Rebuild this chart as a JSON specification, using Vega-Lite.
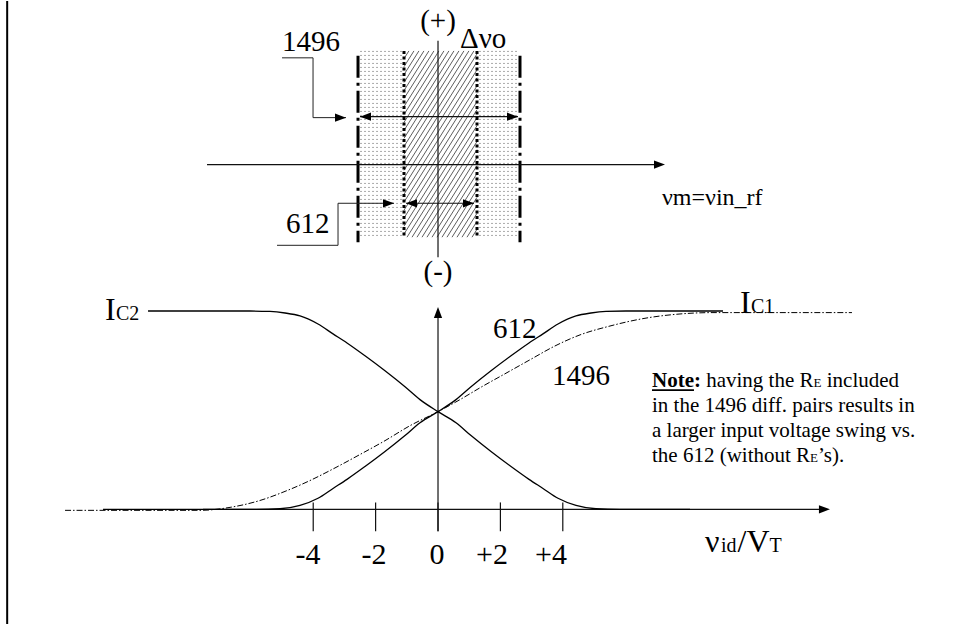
{
  "$schema": "https://vega.github.io/schema/vega-lite/v6.json",
  "width": 959,
  "height": 625,
  "autosize": {"type": "fit", "contains": "padding"},
  "padding": 0,
  "background": "white",
  "config": {"view": {"stroke": null}},
  "datasets": {
    "curves": [
      {"curve": "IC2 612", "x": -9.295, "y": 1.005},
      {"curve": "IC2 612", "x": -6.026, "y": 1.005},
      {"curve": "IC2 612", "x": -5.385, "y": 1.003},
      {"curve": "IC2 612", "x": -4.904, "y": 0.995},
      {"curve": "IC2 612", "x": -4.423, "y": 0.98},
      {"curve": "IC2 612", "x": -3.846, "y": 0.939},
      {"curve": "IC2 612", "x": -3.365, "y": 0.889},
      {"curve": "IC2 612", "x": -2.917, "y": 0.843},
      {"curve": "IC2 612", "x": -2.34, "y": 0.778},
      {"curve": "IC2 612", "x": -1.699, "y": 0.702},
      {"curve": "IC2 612", "x": -1.058, "y": 0.621},
      {"curve": "IC2 612", "x": -0.577, "y": 0.556},
      {"curve": "IC2 612", "x": 0, "y": 0.495},
      {"curve": "IC2 612", "x": 0.577, "y": 0.439},
      {"curve": "IC2 612", "x": 1.058, "y": 0.374},
      {"curve": "IC2 612", "x": 1.699, "y": 0.293},
      {"curve": "IC2 612", "x": 2.34, "y": 0.217},
      {"curve": "IC2 612", "x": 2.917, "y": 0.152},
      {"curve": "IC2 612", "x": 3.365, "y": 0.106},
      {"curve": "IC2 612", "x": 3.846, "y": 0.056},
      {"curve": "IC2 612", "x": 4.423, "y": 0.02},
      {"curve": "IC2 612", "x": 5.064, "y": 0.003},
      {"curve": "IC2 612", "x": 5.833, "y": 0},
      {"curve": "IC2 612", "x": 8.077, "y": 0},
      {"curve": "IC1 612", "x": -10.737, "y": 0},
      {"curve": "IC1 612", "x": -5.833, "y": 0},
      {"curve": "IC1 612", "x": -5.064, "y": 0.003},
      {"curve": "IC1 612", "x": -4.423, "y": 0.02},
      {"curve": "IC1 612", "x": -3.846, "y": 0.056},
      {"curve": "IC1 612", "x": -3.365, "y": 0.106},
      {"curve": "IC1 612", "x": -2.917, "y": 0.152},
      {"curve": "IC1 612", "x": -2.34, "y": 0.217},
      {"curve": "IC1 612", "x": -1.699, "y": 0.293},
      {"curve": "IC1 612", "x": -1.058, "y": 0.374},
      {"curve": "IC1 612", "x": -0.577, "y": 0.439},
      {"curve": "IC1 612", "x": 0, "y": 0.495},
      {"curve": "IC1 612", "x": 0.577, "y": 0.556},
      {"curve": "IC1 612", "x": 1.058, "y": 0.621},
      {"curve": "IC1 612", "x": 1.699, "y": 0.702},
      {"curve": "IC1 612", "x": 2.34, "y": 0.778},
      {"curve": "IC1 612", "x": 2.917, "y": 0.843},
      {"curve": "IC1 612", "x": 3.365, "y": 0.889},
      {"curve": "IC1 612", "x": 3.846, "y": 0.939},
      {"curve": "IC1 612", "x": 4.423, "y": 0.98},
      {"curve": "IC1 612", "x": 4.904, "y": 0.995},
      {"curve": "IC1 612", "x": 5.385, "y": 1.003},
      {"curve": "IC1 612", "x": 6.026, "y": 1.005},
      {"curve": "IC1 612", "x": 9.135, "y": 1.005},
      {"curve": "IC1 1496", "x": -11.955, "y": -0.005},
      {"curve": "IC1 1496", "x": -7.628, "y": -0.005},
      {"curve": "IC1 1496", "x": -6.667, "y": 0.01},
      {"curve": "IC1 1496", "x": -5.705, "y": 0.045},
      {"curve": "IC1 1496", "x": -4.904, "y": 0.091},
      {"curve": "IC1 1496", "x": -4.103, "y": 0.146},
      {"curve": "IC1 1496", "x": -3.397, "y": 0.202},
      {"curve": "IC1 1496", "x": -2.5, "y": 0.278},
      {"curve": "IC1 1496", "x": -1.699, "y": 0.348},
      {"curve": "IC1 1496", "x": -0.897, "y": 0.424},
      {"curve": "IC1 1496", "x": 0, "y": 0.495},
      {"curve": "IC1 1496", "x": 0.705, "y": 0.556},
      {"curve": "IC1 1496", "x": 1.346, "y": 0.616},
      {"curve": "IC1 1496", "x": 2.147, "y": 0.687},
      {"curve": "IC1 1496", "x": 2.949, "y": 0.758},
      {"curve": "IC1 1496", "x": 3.75, "y": 0.828},
      {"curve": "IC1 1496", "x": 4.551, "y": 0.884},
      {"curve": "IC1 1496", "x": 5.513, "y": 0.929},
      {"curve": "IC1 1496", "x": 6.699, "y": 0.97},
      {"curve": "IC1 1496", "x": 7.756, "y": 0.99},
      {"curve": "IC1 1496", "x": 8.814, "y": 0.997},
      {"curve": "IC1 1496", "x": 10.321, "y": 0.997},
      {"curve": "IC1 1496", "x": 13.269, "y": 0.997}
    ],
    "rules": [
      {"style": "border", "x": -13.81, "y": 2.576, "x2": -13.81, "y2": -0.581},
      {"style": "axis", "x": 0, "y": 2.374, "x2": 0, "y2": 1.278},
      {"style": "axis", "x": -7.404, "y": 1.747, "x2": 7.1, "y2": 1.747},
      {"style": "axis", "x": -2.5, "y": 1.99, "x2": 2.564, "y2": 1.99},
      {"style": "axis", "x": -1.026, "y": 1.551, "x2": 1.154, "y2": 1.551},
      {"style": "axis", "x": -7.532, "y": 0, "x2": 12.4, "y2": 0},
      {"style": "axis", "x": 0, "y": 1.0, "x2": 0, "y2": -0.111},
      {"style": "axis", "x": -4, "y": 0.035, "x2": -4, "y2": -0.111},
      {"style": "axis", "x": -2, "y": 0.035, "x2": -2, "y2": -0.111},
      {"style": "axis", "x": 0, "y": 0.035, "x2": 0, "y2": -0.111},
      {"style": "axis", "x": 2, "y": 0.035, "x2": 2, "y2": -0.111},
      {"style": "axis", "x": 4, "y": 0.035, "x2": 4, "y2": -0.111},
      {"style": "underline", "x": 6.859, "y": 0.604, "x2": 8.205, "y2": 0.604},
      {"style": "dashdot", "x": -2.564, "y": 2.298, "x2": -2.564, "y2": 1.354},
      {"style": "dashdot", "x": 2.628, "y": 2.298, "x2": 2.628, "y2": 1.354},
      {"style": "dotted", "x": -1.09, "y": 2.323, "x2": -1.09, "y2": 1.379},
      {"style": "dotted", "x": 1.25, "y": 2.323, "x2": 1.25, "y2": 1.379},
      {"style": "stipple", "x": -2.468, "y": 2.323, "x2": -2.468, "y2": 1.379},
      {"style": "stipple", "x": -2.34, "y": 2.323, "x2": -2.34, "y2": 1.379},
      {"style": "stipple", "x": -2.212, "y": 2.323, "x2": -2.212, "y2": 1.379},
      {"style": "stipple", "x": -2.083, "y": 2.323, "x2": -2.083, "y2": 1.379},
      {"style": "stipple", "x": -1.955, "y": 2.323, "x2": -1.955, "y2": 1.379},
      {"style": "stipple", "x": -1.827, "y": 2.323, "x2": -1.827, "y2": 1.379},
      {"style": "stipple", "x": -1.699, "y": 2.323, "x2": -1.699, "y2": 1.379},
      {"style": "stipple", "x": -1.571, "y": 2.323, "x2": -1.571, "y2": 1.379},
      {"style": "stipple", "x": -1.442, "y": 2.323, "x2": -1.442, "y2": 1.379},
      {"style": "stipple", "x": -1.314, "y": 2.323, "x2": -1.314, "y2": 1.379},
      {"style": "stipple", "x": -1.186, "y": 2.323, "x2": -1.186, "y2": 1.379},
      {"style": "stipple", "x": 1.346, "y": 2.323, "x2": 1.346, "y2": 1.379},
      {"style": "stipple", "x": 1.474, "y": 2.323, "x2": 1.474, "y2": 1.379},
      {"style": "stipple", "x": 1.603, "y": 2.323, "x2": 1.603, "y2": 1.379},
      {"style": "stipple", "x": 1.731, "y": 2.323, "x2": 1.731, "y2": 1.379},
      {"style": "stipple", "x": 1.859, "y": 2.323, "x2": 1.859, "y2": 1.379},
      {"style": "stipple", "x": 1.987, "y": 2.323, "x2": 1.987, "y2": 1.379},
      {"style": "stipple", "x": 2.115, "y": 2.323, "x2": 2.115, "y2": 1.379},
      {"style": "stipple", "x": 2.244, "y": 2.323, "x2": 2.244, "y2": 1.379},
      {"style": "stipple", "x": 2.372, "y": 2.323, "x2": 2.372, "y2": 1.379},
      {"style": "stipple", "x": 2.5, "y": 2.323, "x2": 2.5, "y2": 1.379},
      {"style": "hatch", "x": -1.09, "y": 2.284, "x2": -0.933, "y2": 2.323},
      {"style": "hatch", "x": -1.09, "y": 2.243, "x2": -0.772, "y2": 2.323},
      {"style": "hatch", "x": -1.09, "y": 2.203, "x2": -0.612, "y2": 2.323},
      {"style": "hatch", "x": -1.09, "y": 2.163, "x2": -0.452, "y2": 2.323},
      {"style": "hatch", "x": -1.09, "y": 2.122, "x2": -0.292, "y2": 2.323},
      {"style": "hatch", "x": -1.09, "y": 2.082, "x2": -0.131, "y2": 2.323},
      {"style": "hatch", "x": -1.09, "y": 2.041, "x2": 0.029, "y2": 2.323},
      {"style": "hatch", "x": -1.09, "y": 2.001, "x2": 0.189, "y2": 2.323},
      {"style": "hatch", "x": -1.09, "y": 1.961, "x2": 0.349, "y2": 2.323},
      {"style": "hatch", "x": -1.09, "y": 1.92, "x2": 0.51, "y2": 2.323},
      {"style": "hatch", "x": -1.09, "y": 1.88, "x2": 0.67, "y2": 2.323},
      {"style": "hatch", "x": -1.09, "y": 1.839, "x2": 0.83, "y2": 2.323},
      {"style": "hatch", "x": -1.09, "y": 1.799, "x2": 0.99, "y2": 2.323},
      {"style": "hatch", "x": -1.09, "y": 1.759, "x2": 1.151, "y2": 2.323},
      {"style": "hatch", "x": -1.09, "y": 1.718, "x2": 1.25, "y2": 2.308},
      {"style": "hatch", "x": -1.09, "y": 1.678, "x2": 1.25, "y2": 2.268},
      {"style": "hatch", "x": -1.09, "y": 1.637, "x2": 1.25, "y2": 2.227},
      {"style": "hatch", "x": -1.09, "y": 1.597, "x2": 1.25, "y2": 2.187},
      {"style": "hatch", "x": -1.09, "y": 1.557, "x2": 1.25, "y2": 2.146},
      {"style": "hatch", "x": -1.09, "y": 1.516, "x2": 1.25, "y2": 2.106},
      {"style": "hatch", "x": -1.09, "y": 1.476, "x2": 1.25, "y2": 2.066},
      {"style": "hatch", "x": -1.09, "y": 1.435, "x2": 1.25, "y2": 2.025},
      {"style": "hatch", "x": -1.09, "y": 1.395, "x2": 1.25, "y2": 1.985},
      {"style": "hatch", "x": -0.994, "y": 1.379, "x2": 1.25, "y2": 1.944},
      {"style": "hatch", "x": -0.833, "y": 1.379, "x2": 1.25, "y2": 1.904},
      {"style": "hatch", "x": -0.673, "y": 1.379, "x2": 1.25, "y2": 1.864},
      {"style": "hatch", "x": -0.513, "y": 1.379, "x2": 1.25, "y2": 1.823},
      {"style": "hatch", "x": -0.353, "y": 1.379, "x2": 1.25, "y2": 1.783},
      {"style": "hatch", "x": -0.192, "y": 1.379, "x2": 1.25, "y2": 1.742},
      {"style": "hatch", "x": -0.032, "y": 1.379, "x2": 1.25, "y2": 1.702},
      {"style": "hatch", "x": 0.128, "y": 1.379, "x2": 1.25, "y2": 1.662},
      {"style": "hatch", "x": 0.288, "y": 1.379, "x2": 1.25, "y2": 1.621},
      {"style": "hatch", "x": 0.449, "y": 1.379, "x2": 1.25, "y2": 1.581},
      {"style": "hatch", "x": 0.609, "y": 1.379, "x2": 1.25, "y2": 1.54},
      {"style": "hatch", "x": 0.769, "y": 1.379, "x2": 1.25, "y2": 1.5},
      {"style": "hatch", "x": 0.929, "y": 1.379, "x2": 1.25, "y2": 1.46},
      {"style": "hatch", "x": 1.09, "y": 1.379, "x2": 1.25, "y2": 1.419}
    ],
    "leaders": [
      {"leader": "1496", "order": 1, "x": -5.0, "y": 2.288},
      {"leader": "1496", "order": 2, "x": -4.006, "y": 2.288},
      {"leader": "1496", "order": 3, "x": -4.006, "y": 1.985},
      {"leader": "1496", "order": 4, "x": -2.949, "y": 1.985},
      {"leader": "612", "order": 1, "x": -5.16, "y": 1.338},
      {"leader": "612", "order": 2, "x": -3.205, "y": 1.338},
      {"leader": "612", "order": 3, "x": -3.205, "y": 1.551},
      {"leader": "612", "order": 4, "x": -1.41, "y": 1.551}
    ],
    "arrows": [
      {"dir": "right", "x": 7.276, "y": 1.747},
      {"dir": "left", "x": -2.5, "y": 1.99},
      {"dir": "right", "x": 2.564, "y": 1.99},
      {"dir": "right", "x": -2.949, "y": 1.985},
      {"dir": "right", "x": -1.41, "y": 1.551},
      {"dir": "left", "x": -1.026, "y": 1.551},
      {"dir": "right", "x": 1.154, "y": 1.551},
      {"dir": "right", "x": 12.564, "y": 0},
      {"dir": "up", "x": 0, "y": 1.025}
    ],
    "texts": [
      {"role": "num", "x": -5.0, "y": 2.323, "text": "1496"},
      {"role": "num", "x": -4.872, "y": 1.399, "text": "612"},
      {"role": "num", "x": 0.705, "y": 2.338, "text": "Δνo"},
      {"role": "num", "x": 1.763, "y": 0.869, "text": "612"},
      {"role": "num", "x": 3.654, "y": 0.631, "text": "1496"},
      {"role": "sign", "x": 0, "y": 2.429, "text": "(+)"},
      {"role": "sign", "x": 0, "y": 1.157, "text": "(-)"},
      {"role": "vm", "x": 7.179, "y": 1.54, "text": "νm=νin_rf"},
      {"role": "I", "x": -10.673, "y": 0.96, "text": "I"},
      {"role": "I", "x": 9.679, "y": 0.995, "text": "I"},
      {"role": "sub", "x": -10.321, "y": 0.96, "text": "C2"},
      {"role": "sub", "x": 10.032, "y": 0.995, "text": "C1"},
      {"role": "sub", "x": 9.071, "y": -0.217, "text": "id"},
      {"role": "sub", "x": 10.625, "y": -0.217, "text": "T"},
      {"role": "axisBig", "x": 8.558, "y": -0.217, "text": "ν"},
      {"role": "axisBig", "x": 9.599, "y": -0.217, "text": "/"},
      {"role": "axisBig", "x": 9.885, "y": -0.217, "text": "V"},
      {"role": "noteBold", "x": 6.859, "y": 0.621, "text": "Note:"},
      {"role": "note", "x": 8.596, "y": 0.621, "text": "having the R"},
      {"role": "noteSmall", "x": 12.038, "y": 0.621, "text": "E"},
      {"role": "note", "x": 12.462, "y": 0.621, "text": "included"},
      {"role": "note", "x": 6.859, "y": 0.495, "text": "in the 1496 diff. pairs results in"},
      {"role": "note", "x": 6.859, "y": 0.369, "text": "a larger input voltage swing vs."},
      {"role": "note", "x": 6.859, "y": 0.242, "text": "the 612 (without R"},
      {"role": "noteSmall", "x": 11.926, "y": 0.242, "text": "E"},
      {"role": "note", "x": 12.179, "y": 0.242, "text": "’s)."},
      {"role": "tick", "x": -4.167, "y": -0.278, "text": "-4"},
      {"role": "tick", "x": -2.051, "y": -0.278, "text": "-2"},
      {"role": "tick", "x": -0.032, "y": -0.278, "text": "0"},
      {"role": "tick", "x": 1.731, "y": -0.278, "text": "+2"},
      {"role": "tick", "x": 3.622, "y": -0.278, "text": "+4"}
    ]
  },
  "encoding": {
    "x": {"field": "x", "type": "quantitative", "axis": null, "scale": {"domain": [-14.04, 16.7], "nice": false, "zero": false}},
    "y": {"field": "y", "type": "quantitative", "axis": null, "scale": {"domain": [-0.581, 2.576], "nice": false, "zero": false}}
  },
  "layer": [
    {
      "data": {"name": "rules"},
      "transform": [{"filter": "datum.style === 'stipple'"}],
      "mark": {"type": "rule", "color": "#555555", "strokeWidth": 1, "strokeDash": [1, 3]},
      "encoding": {"x2": {"field": "x2"}, "y2": {"field": "y2"}}
    },
    {
      "data": {"name": "rules"},
      "transform": [{"filter": "datum.style === 'hatch'"}],
      "mark": {"type": "rule", "color": "#333333", "strokeWidth": 0.8},
      "encoding": {"x2": {"field": "x2"}, "y2": {"field": "y2"}}
    },
    {
      "data": {"name": "rules"},
      "transform": [{"filter": "datum.style === 'dashdot'"}],
      "mark": {"type": "rule", "color": "black", "strokeWidth": 3, "strokeDash": [22, 5, 3, 5]},
      "encoding": {"x2": {"field": "x2"}, "y2": {"field": "y2"}}
    },
    {
      "data": {"name": "rules"},
      "transform": [{"filter": "datum.style === 'dotted'"}],
      "mark": {"type": "rule", "color": "black", "strokeWidth": 3, "strokeDash": [3, 2.5]},
      "encoding": {"x2": {"field": "x2"}, "y2": {"field": "y2"}}
    },
    {
      "data": {"name": "rules"},
      "transform": [{"filter": "datum.style === 'axis'"}],
      "mark": {"type": "rule", "color": "#111111", "strokeWidth": 1.2},
      "encoding": {"x2": {"field": "x2"}, "y2": {"field": "y2"}}
    },
    {
      "data": {"name": "rules"},
      "transform": [{"filter": "datum.style === 'border'"}],
      "mark": {"type": "rule", "color": "black", "strokeWidth": 2},
      "encoding": {"x2": {"field": "x2"}, "y2": {"field": "y2"}}
    },
    {
      "data": {"name": "rules"},
      "transform": [{"filter": "datum.style === 'underline'"}],
      "mark": {"type": "rule", "color": "black", "strokeWidth": 1.8},
      "encoding": {"x2": {"field": "x2"}, "y2": {"field": "y2"}}
    },
    {
      "data": {"name": "leaders"},
      "mark": {"type": "line", "color": "#222222", "strokeWidth": 1},
      "encoding": {"detail": {"field": "leader"}, "order": {"field": "order"}}
    },
    {
      "data": {"name": "curves"},
      "transform": [{"filter": "datum.curve !== 'IC1 1496'"}],
      "mark": {"type": "line", "color": "black", "strokeWidth": 1.3, "interpolate": "monotone"},
      "encoding": {"detail": {"field": "curve"}}
    },
    {
      "data": {"name": "curves"},
      "transform": [{"filter": "datum.curve === 'IC1 1496'"}],
      "mark": {"type": "line", "color": "black", "strokeWidth": 1, "strokeDash": [6, 2, 1.5, 2], "interpolate": "monotone"},
      "encoding": {"detail": {"field": "curve"}}
    },
    {
      "data": {"name": "arrows"},
      "transform": [{"filter": "datum.dir === 'right'"}],
      "mark": {"type": "point", "shape": "M0,0L-2,-0.75L-2,0.75Z", "filled": true, "size": 121, "color": "black", "opacity": 1, "angle": 0}
    },
    {
      "data": {"name": "arrows"},
      "transform": [{"filter": "datum.dir === 'left'"}],
      "mark": {"type": "point", "shape": "M0,0L-2,-0.75L-2,0.75Z", "filled": true, "size": 121, "color": "black", "opacity": 1, "angle": 180}
    },
    {
      "data": {"name": "arrows"},
      "transform": [{"filter": "datum.dir === 'up'"}],
      "mark": {"type": "point", "shape": "M0,0L-2,-0.75L-2,0.75Z", "filled": true, "size": 121, "color": "black", "opacity": 1, "angle": 270}
    },
    {
      "data": {"name": "texts"},
      "transform": [{"filter": "datum.role === 'num'"}],
      "mark": {"type": "text", "font": "Liberation Serif", "fontSize": 29, "align": "left", "baseline": "alphabetic", "color": "black"},
      "encoding": {"text": {"field": "text"}}
    },
    {
      "data": {"name": "texts"},
      "transform": [{"filter": "datum.role === 'sign'"}],
      "mark": {"type": "text", "font": "Liberation Serif", "fontSize": 29, "align": "center", "baseline": "alphabetic", "color": "black"},
      "encoding": {"text": {"field": "text"}}
    },
    {
      "data": {"name": "texts"},
      "transform": [{"filter": "datum.role === 'vm'"}],
      "mark": {"type": "text", "font": "Liberation Serif", "fontSize": 24, "align": "left", "baseline": "alphabetic", "color": "black"},
      "encoding": {"text": {"field": "text"}}
    },
    {
      "data": {"name": "texts"},
      "transform": [{"filter": "datum.role === 'I'"}],
      "mark": {"type": "text", "font": "Liberation Serif", "fontSize": 32, "align": "left", "baseline": "alphabetic", "color": "black"},
      "encoding": {"text": {"field": "text"}}
    },
    {
      "data": {"name": "texts"},
      "transform": [{"filter": "datum.role === 'sub'"}],
      "mark": {"type": "text", "font": "Liberation Serif", "fontSize": 20, "align": "left", "baseline": "alphabetic", "color": "black"},
      "encoding": {"text": {"field": "text"}}
    },
    {
      "data": {"name": "texts"},
      "transform": [{"filter": "datum.role === 'axisBig'"}],
      "mark": {"type": "text", "font": "Liberation Serif", "fontSize": 32, "align": "left", "baseline": "alphabetic", "color": "black"},
      "encoding": {"text": {"field": "text"}}
    },
    {
      "data": {"name": "texts"},
      "transform": [{"filter": "datum.role === 'noteBold'"}],
      "mark": {"type": "text", "font": "Liberation Serif", "fontSize": 21, "fontWeight": "bold", "align": "left", "baseline": "alphabetic", "color": "black"},
      "encoding": {"text": {"field": "text"}}
    },
    {
      "data": {"name": "texts"},
      "transform": [{"filter": "datum.role === 'note'"}],
      "mark": {"type": "text", "font": "Liberation Serif", "fontSize": 21, "align": "left", "baseline": "alphabetic", "color": "black"},
      "encoding": {"text": {"field": "text"}}
    },
    {
      "data": {"name": "texts"},
      "transform": [{"filter": "datum.role === 'noteSmall'"}],
      "mark": {"type": "text", "font": "Liberation Serif", "fontSize": 13, "align": "left", "baseline": "alphabetic", "color": "black"},
      "encoding": {"text": {"field": "text"}}
    },
    {
      "data": {"name": "texts"},
      "transform": [{"filter": "datum.role === 'tick'"}],
      "mark": {"type": "text", "font": "Liberation Serif", "fontSize": 30, "align": "center", "baseline": "alphabetic", "color": "black"},
      "encoding": {"text": {"field": "text"}}
    }
  ]
}
